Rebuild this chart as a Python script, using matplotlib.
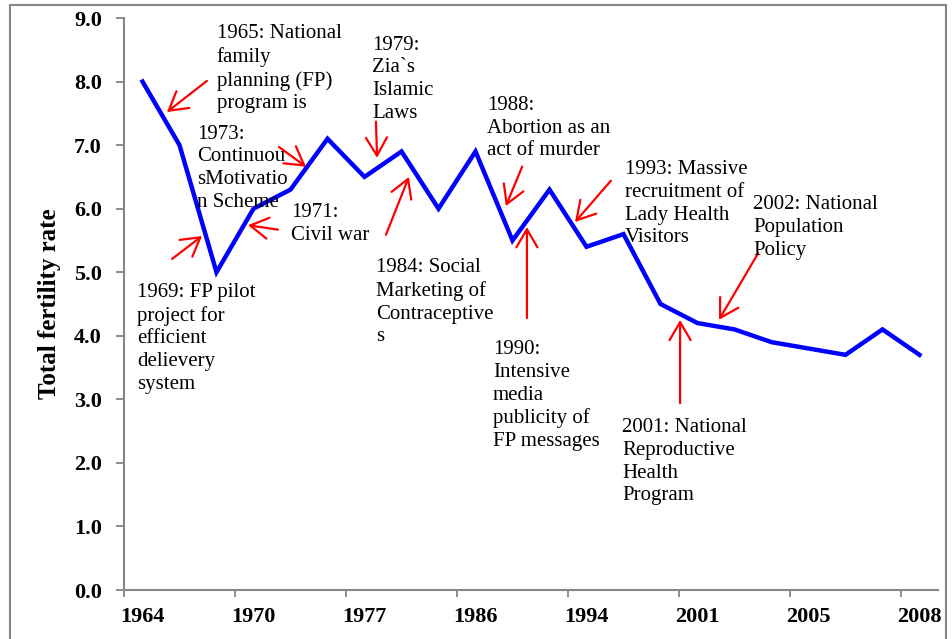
import numpy as np
import matplotlib.pyplot as plt
from matplotlib.patches import Rectangle

plt.rcParams['font.family'] = ['Liberation Serif', 'DejaVu Serif']

# total fertility rate, one value per survey point
tfr = [8.0, 7.0, 5.0, 6.0, 6.3, 7.1, 6.5, 6.9, 6.0, 6.9, 5.5,
       6.3, 5.4, 5.6, 4.5, 4.2, 4.1, 3.9, 3.8, 3.7, 4.1, 3.7]
# only every third category carries a label
year_labels = ['1964', '1970', '1977', '1986', '1994', '2001', '2005', '2008']
label_step = 3

# (text, text top-left, arrow tail, arrow head) in data coords
notes = [
    ("1965: National\nfamily\nplanning (FP)\nprogram is", (2.01, 8.90), (1.74, 8.01), (0.66, 7.52)),
    ("1973:\nContinuou\nsMotivatio\nn Scheme", (1.47, 7.32), (3.69, 6.97), (4.42, 6.66)),
    ("1971:\nCivil war", (4.01, 6.09), (3.66, 5.67), (2.85, 5.74)),
    ("1979:\nZia`s\nIslamic\nLaws", (6.20, 8.72), (6.31, 7.37), (6.34, 6.80)),
    ("1969: FP pilot\nproject for\nefficient\ndelievery\nsystem", (-0.15, 4.83), (0.80, 5.21), (1.61, 5.57)),
    ("1984: Social\nMarketing of\nContraceptive\ns", (6.31, 5.22), (6.58, 5.59), (7.20, 6.50)),
    ("1988:\nAbortion as an\nact of murder", (9.31, 7.77), (10.26, 6.66), (9.82, 6.04)),
    ("1990:\nIntensive\nmedia\npublicity of\nFP messages", (9.47, 3.93), (10.39, 4.28), (10.39, 5.71)),
    ("1993: Massive\nrecruitment of\nLady Health\nVisitors", (13.04, 6.76), (12.66, 6.44), (11.69, 5.79)),
    ("2002: National\nPopulation\nPolicy", (16.50, 6.21), (16.64, 5.30), (15.58, 4.25)),
    ("2001: National\nReproductive\nHealth\nProgram", (12.96, 2.70), (14.53, 2.94), (14.53, 4.25)),
]

fig = plt.figure(figsize=(9.52, 6.39), dpi=100)
ax = fig.add_axes([124/952, 1 - 590/639, (938 - 124)/952, (590 - 18)/639])

x = np.arange(len(tfr))
ax.plot(x, tfr, color='#0000FF', lw=3.2, solid_joinstyle='miter', zorder=3)

for txt, pos, tail, head in notes:
    ax.text(pos[0], pos[1], txt, ha='left', va='top', fontsize=15,
            linespacing=1.26, zorder=5)
    ax.annotate('', xy=head, xytext=tail,
                arrowprops=dict(arrowstyle='->,head_length=0.65,head_width=0.38',
                                color='red', lw=1.6, shrinkA=0, shrinkB=0,
                                mutation_scale=20), zorder=4)

ax.set_xlim(-0.5, len(tfr) - 0.5)
ax.set_ylim(0, 9)
ax.set_yticks(np.arange(0, 9.5, 1.0))
ax.set_yticklabels([f'{v:.1f}' for v in np.arange(0, 9.5, 1.0)],
                   fontsize=16, fontweight='bold')
ax.set_xticks(np.arange(-0.5, len(tfr) - 1, label_step))
ax.set_xticklabels([])
ax.set_xticks(np.arange(0, len(tfr), label_step), minor=True)
ax.set_xticklabels(year_labels, minor=True, fontsize=16, fontweight='bold')
ax.tick_params(axis='x', which='minor', length=0, pad=12)
ax.tick_params(axis='x', which='major', length=5, color='#868686', width=1.3)
ax.tick_params(axis='y', length=6, color='#868686', width=1.3, pad=10)

for side in ['top', 'right']:
    ax.spines[side].set_visible(False)
for side in ['left', 'bottom']:
    ax.spines[side].set_color('#868686')
    ax.spines[side].set_linewidth(1.5)

ax.set_ylabel('Total fertility rate', fontsize=18, fontweight='bold', labelpad=9)

fig.patches.append(Rectangle((10/952, -0.05), 936/952, 1.05 - 5/639,
                             transform=fig.transFigure, fill=False,
                             edgecolor='#868686', lw=1.5))

fig.savefig('out.png', dpi=100)
